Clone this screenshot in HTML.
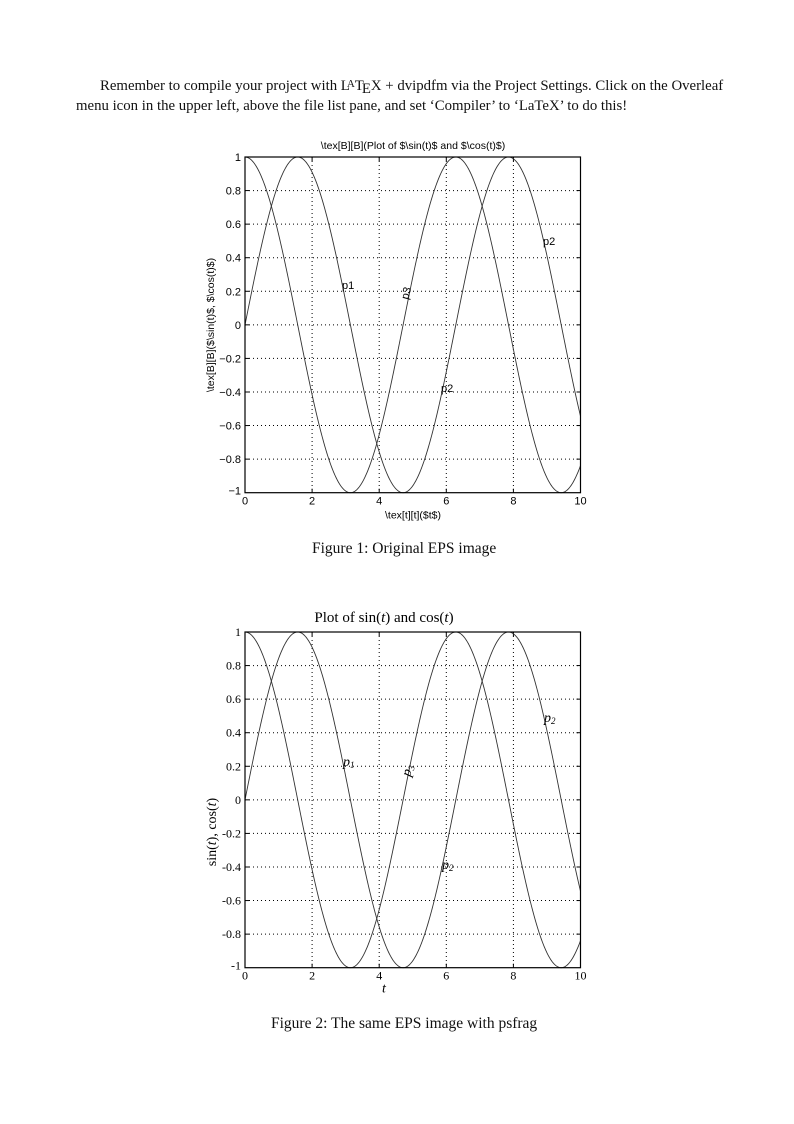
<!DOCTYPE html>
<html><head><meta charset="utf-8"><style>
html,body{margin:0;padding:0;background:#fff;}
body{width:794px;height:1124px;position:relative;overflow:hidden;}
.p{position:absolute;font-family:"Liberation Serif",serif;font-size:14.8px;color:#111;white-space:nowrap;}
</style></head><body>
<div class="p" style="left:100px;top:78px;">Remember to compile your project with L<span style="font-size:11px;position:relative;top:-3px;margin-left:-3px;">A</span>T<span style="position:relative;top:3px;margin-left:-2px;">E</span>X + dvipdfm via the Project Settings. Click on the Overleaf</div>
<div class="p" style="left:76px;top:98px;">menu icon in the upper left, above the file list pane, and set ‘Compiler’ to ‘LaTeX’ to do this!</div>
<div class="p" style="left:312px;top:540px;font-size:15.5px;">Figure 1: Original EPS image</div>
<div class="p" style="left:271px;top:1015px;font-size:15.5px;">Figure 2: The same EPS image with psfrag</div>
<svg id="s" width="794" height="1124" style="position:absolute;left:0;top:0"></svg>
<script>
var s=document.getElementById('s'),h='';
function plot(top,sans){
 var L=245,R=580.5,T=top,B=top+335.7,W=R-L,H=B-T;
 function X(t){return L+t/10*W} function Y(v){return T+(1-v)/2*H}
 for(var i=1;i<5;i++){var x=X(2*i);h+='<line x1="'+x+'" y1="'+T+'" x2="'+x+'" y2="'+B+'" stroke="#000" stroke-width="1" stroke-dasharray="1,3"/>';
  h+='<line x1="'+x+'" y1="'+T+'" x2="'+x+'" y2="'+(T+4)+'" stroke="#000"/><line x1="'+x+'" y1="'+B+'" x2="'+x+'" y2="'+(B-4)+'" stroke="#000"/>';}
 for(var j=-4;j<=4;j++){var y=Y(j/5);h+='<line x1="'+L+'" y1="'+y+'" x2="'+R+'" y2="'+y+'" stroke="#000" stroke-width="1" stroke-dasharray="1,3"/>';
  h+='<line x1="'+L+'" y1="'+y+'" x2="'+(L+4)+'" y2="'+y+'" stroke="#000"/><line x1="'+R+'" y1="'+y+'" x2="'+(R-4)+'" y2="'+y+'" stroke="#000"/>';}
 var a='',b='';for(var k=0;k<=500;k++){var t=k/50;a+=(k?'L':'M')+X(t).toFixed(2)+' '+Y(Math.sin(t)).toFixed(2);b+=(k?'L':'M')+X(t).toFixed(2)+' '+Y(Math.cos(t)).toFixed(2);}
 h+='<path d="'+a+'" fill="none" stroke="#333" stroke-width="0.9"/><path d="'+b+'" fill="none" stroke="#333" stroke-width="0.9"/>';
 h+='<rect x="'+L+'" y="'+T+'" width="'+W+'" height="'+H+'" fill="none" stroke="#000" stroke-width="1.2"/>';
 var ff=sans?'Liberation Sans':'Liberation Serif',fs=sans?11:12;
 for(var i=0;i<=5;i++){h+='<text x="'+X(2*i)+'" y="'+(B+12)+'" font-family="'+ff+'" font-size="'+fs+'" text-anchor="middle">'+(2*i)+'</text>';}
 var yl=['1','0.8','0.6','0.4','0.2','0','\u22120.2','\u22120.4','\u22120.6','\u22120.8','\u22121'];
 for(var j=0;j<=10;j++){var v=yl[j];if(!sans)v=v.replace('\u2212','-');h+='<text x="'+(L-4)+'" y="'+(Y(1-j/5)+(j==10?2:4))+'" font-family="'+ff+'" font-size="'+fs+'" text-anchor="end">'+v+'</text>';}
 if(sans){
  h+='<text x="413" y="'+(T-8)+'" font-family="Liberation Sans" font-size="10.5" text-anchor="middle">\\tex[B][B](Plot of $\\sin(t)$ and $\\cos(t)$)</text>';
  h+='<text x="413" y="'+(B+26)+'" font-family="Liberation Sans" font-size="10.5" text-anchor="middle">\\tex[t][t]($t$)</text>';
  h+='<text transform="translate(214,'+(T+168)+') rotate(-90)" font-family="Liberation Sans" font-size="10.5" text-anchor="middle">\\tex[B][B]($\\sin(t)$, $\\cos(t)$)</text>';
  h+='<text x="342" y="'+(T+132)+'" font-family="Liberation Sans" font-size="11">p1</text>';
  h+='<text x="543" y="'+(T+88)+'" font-family="Liberation Sans" font-size="11">p2</text>';
  h+='<text x="441" y="'+(T+235)+'" font-family="Liberation Sans" font-size="11">p2</text>';
  h+='<text transform="translate(408,'+(T+143)+') rotate(-75)" font-family="Liberation Sans" font-size="11">p3</text>';
 }else{
  h+='<text x="384" y="'+(T-10)+'" font-family="Liberation Serif" font-size="15" text-anchor="middle">Plot of sin(<tspan font-style="italic">t</tspan>) and cos(<tspan font-style="italic">t</tspan>)</text>';
  h+='<text x="384" y="'+(B+25)+'" font-family="Liberation Serif" font-size="14" font-style="italic" text-anchor="middle">t</text>';
  h+='<text transform="translate(216,'+(T+200)+') rotate(-90)" font-family="Liberation Serif" font-size="14" text-anchor="middle">sin(<tspan font-style="italic">t</tspan>), cos(<tspan font-style="italic">t</tspan>)</text>';
  function pl(x,y,n,rot){h+='<text '+(rot?'transform="translate('+x+','+y+') rotate(-75)"':'x="'+x+'" y="'+y+'"')+' font-family="Liberation Serif" font-size="14" font-style="italic">p<tspan font-size="9" dy="2">'+n+'</tspan></text>';}
  pl(343,T+134,'1');pl(544,T+90,'2');pl(442,T+237,'2');pl(410,T+145,'3',1);
 }
}
plot(157,true);plot(632,false);
s.innerHTML=h;
</script>
</body></html>
